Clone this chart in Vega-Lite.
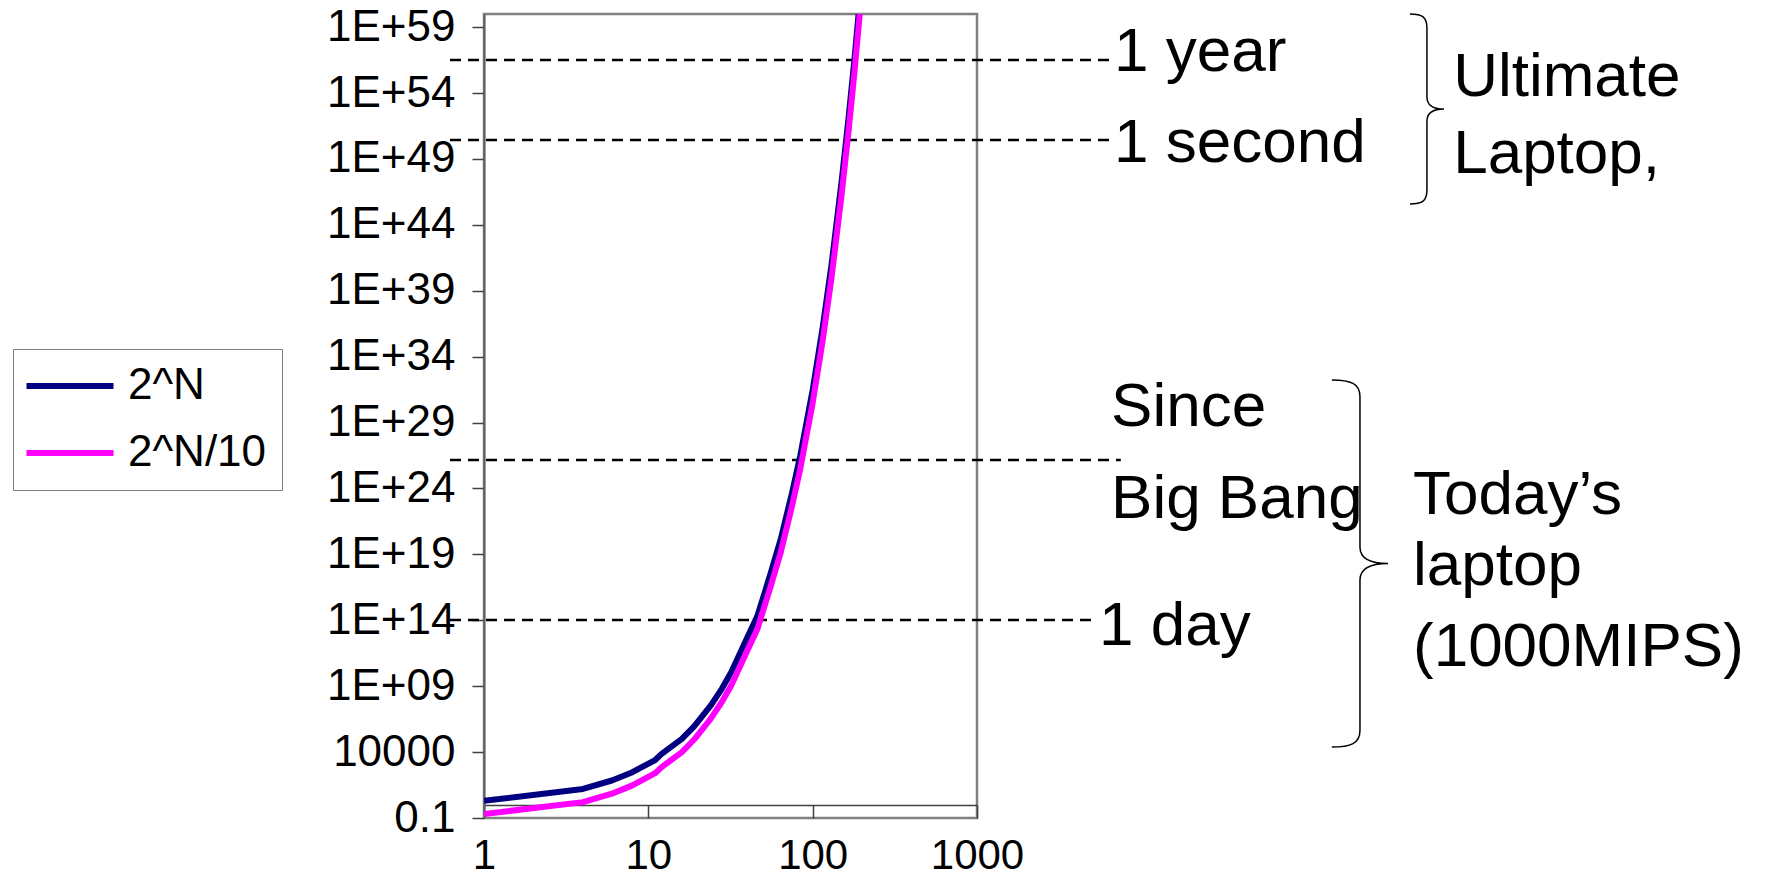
{
  "$schema": "https://vega.github.io/schema/vega-lite/v6.json",
  "autosize": {"type": "none"},
  "padding": {"left": 484, "top": 14, "right": 796, "bottom": 64},
  "width": 493,
  "height": 804,
  "background": "white",
  "config": {
    "view": {"stroke": "#808080", "strokeWidth": 2.5},
    "font": "Liberation Sans"
  },
  "datasets": {
    "series": [
      {"series": "2^N", "x": 1, "y": 2},
      {"series": "2^N", "x": 4, "y": 16},
      {"series": "2^N", "x": 6, "y": 70},
      {"series": "2^N", "x": 8, "y": 300},
      {"series": "2^N", "x": 11, "y": 2500},
      {"series": "2^N", "x": 12, "y": 7000},
      {"series": "2^N", "x": 16, "y": 100000},
      {"series": "2^N", "x": 19, "y": 900000},
      {"series": "2^N", "x": 24, "y": 3.5e7},
      {"series": "2^N", "x": 28, "y": 6.3e8},
      {"series": "2^N", "x": 32, "y": 1.2e10},
      {"series": "2^N", "x": 40, "y": 5e12},
      {"series": "2^N", "x": 46, "y": 2e14},
      {"series": "2^N", "x": 55, "y": 2.5e17},
      {"series": "2^N", "x": 64, "y": 1.5e20},
      {"series": "2^N", "x": 75, "y": 5e23},
      {"series": "2^N", "x": 84, "y": 3e26},
      {"series": "2^N", "x": 100, "y": 3e31},
      {"series": "2^N", "x": 115, "y": 1.6e36},
      {"series": "2^N", "x": 130, "y": 8e40},
      {"series": "2^N", "x": 150, "y": 2e47},
      {"series": "2^N", "x": 165, "y": 1e52},
      {"series": "2^N", "x": 180, "y": 5e56},
      {"series": "2^N", "x": 200, "y": 1e63},
      {"series": "2^N/10", "x": 1, "y": 0.2},
      {"series": "2^N/10", "x": 4, "y": 1.6},
      {"series": "2^N/10", "x": 6, "y": 7},
      {"series": "2^N/10", "x": 8, "y": 30},
      {"series": "2^N/10", "x": 11, "y": 250},
      {"series": "2^N/10", "x": 12, "y": 700},
      {"series": "2^N/10", "x": 16, "y": 10000},
      {"series": "2^N/10", "x": 19, "y": 90000},
      {"series": "2^N/10", "x": 24, "y": 3.5e6},
      {"series": "2^N/10", "x": 28, "y": 6.3e7},
      {"series": "2^N/10", "x": 32, "y": 1.2e9},
      {"series": "2^N/10", "x": 40, "y": 5e11},
      {"series": "2^N/10", "x": 46, "y": 2e13},
      {"series": "2^N/10", "x": 55, "y": 2.5e16},
      {"series": "2^N/10", "x": 64, "y": 1.5e19},
      {"series": "2^N/10", "x": 75, "y": 5e22},
      {"series": "2^N/10", "x": 84, "y": 3e25},
      {"series": "2^N/10", "x": 100, "y": 3e30},
      {"series": "2^N/10", "x": 115, "y": 1.6e35},
      {"series": "2^N/10", "x": 130, "y": 8e39},
      {"series": "2^N/10", "x": 150, "y": 2e46},
      {"series": "2^N/10", "x": 165, "y": 1e51},
      {"series": "2^N/10", "x": 180, "y": 5e55},
      {"series": "2^N/10", "x": 200, "y": 1e62}
    ],
    "rules": [
      {"event": "1 year", "x": 0.621, "x2": 6630, "y": 3.2e56},
      {"event": "1 second", "x": 0.621, "x2": 6630, "y": 2.8e50},
      {"event": "Since Big Bang", "x": 0.621, "x2": 7500, "y": 1.45e26},
      {"event": "1 day", "x": 0.621, "x2": 5370, "y": 1.05e14}
    ],
    "texts": [
      {"label": "1 year", "x": 6820, "y": 4.7e55},
      {"label": "1 second", "x": 6820, "y": 5.9e48},
      {"label": "Ultimate", "x": 790000, "y": 6e53},
      {"label": "Laptop,", "x": 790000, "y": 8.7e47},
      {"label": "Since", "x": 6540, "y": 5.5e28},
      {"label": "Big Bang", "x": 6540, "y": 5.8e21},
      {"label": "1 day", "x": 5530, "y": 1.3e12},
      {"label": "Today’s", "x": 450000, "y": 1.15e22},
      {"label": "laptop", "x": 450000, "y": 5e16},
      {"label": "(1000MIPS)", "x": 450000, "y": 3.5e10}
    ],
    "braceTop": [{"group": "Ultimate Laptop", "x": 547000, "y": 6.2e52}],
    "braceBottom": [{"group": "Today's laptop", "x": 214000, "y": 2.04e18}]
  },
  "encoding": {
    "x": {
      "field": "x",
      "type": "quantitative",
      "scale": {"type": "log", "domain": [1, 1000], "nice": false},
      "axis": {
        "title": null,
        "values": [1, 10, 100, 1000],
        "format": "d",
        "offset": -13,
        "grid": false,
        "labelFlush": false,
        "labelOverlap": false,
        "labelFont": "Liberation Sans",
        "labelFontSize": 42,
        "labelColor": "black",
        "labelPadding": 17,
        "tickSize": 13,
        "tickColor": "#404040",
        "tickWidth": 1.5,
        "domainColor": "#404040",
        "domainWidth": 1.5
      }
    },
    "y": {
      "field": "y",
      "type": "quantitative",
      "scale": {"type": "log", "domain": [0.1, 1e60], "nice": false},
      "axis": {
        "title": null,
        "values": [0.1, 1e4, 1e9, 1e14, 1e19, 1e24, 1e29, 1e34, 1e39, 1e44, 1e49, 1e54, 1e59],
        "labelExpr": "datum.value < 1 ? '0.1' : (datum.value < 1e5 ? '10000' : '1E+' + (round(log(datum.value)/LN10) < 10 ? '0' : '') + round(log(datum.value)/LN10))",
        "grid": false,
        "labelFlush": false,
        "labelOverlap": false,
        "labelFont": "Liberation Sans",
        "labelFontSize": 44,
        "labelColor": "black",
        "labelPadding": 17,
        "tickSize": 12,
        "tickColor": "#404040",
        "tickWidth": 1.5,
        "domainColor": "#606060",
        "domainWidth": 2
      }
    }
  },
  "layer": [
    {
      "data": {"name": "rules"},
      "mark": {"type": "rule", "color": "black", "strokeWidth": 2.5, "strokeDash": [11, 7]},
      "encoding": {"x2": {"field": "x2"}}
    },
    {
      "data": {"name": "series"},
      "mark": {"type": "line", "clip": true, "strokeWidth": 6, "strokeJoin": "round"},
      "encoding": {
        "color": {
          "field": "series",
          "type": "nominal",
          "scale": {"domain": ["2^N", "2^N/10"], "range": ["#000080", "#FF00FF"]},
          "legend": {
            "title": null,
            "orient": "none",
            "legendX": -471,
            "legendY": 335,
            "strokeColor": "#808080",
            "fillColor": "white",
            "padding": 15,
            "rowPadding": 23,
            "symbolType": "M -3 0 L 3 0",
            "symbolSize": 841,
            "symbolOffset": 20,
            "symbolStrokeWidth": 6,
            "labelFont": "Liberation Sans",
            "labelFontSize": 44,
            "labelColor": "black",
            "labelOffset": 36,
            "labelLimit": 400
          }
        }
      }
    },
    {
      "data": {"name": "texts"},
      "mark": {"type": "text", "align": "left", "baseline": "alphabetic", "font": "Liberation Sans", "fontSize": 62, "color": "black"},
      "encoding": {"text": {"field": "label"}}
    },
    {
      "data": {"name": "braceTop"},
      "mark": {
        "type": "point",
        "shape": "M -0.179 -1 C -0.05 -1 0 -0.97 0 -0.85 L 0 -0.13 C 0 -0.04 0.06 0 0.179 0 C 0.06 0 0 0.04 0 0.13 L 0 0.85 C 0 0.97 -0.05 1 -0.179 1",
        "size": 36100,
        "filled": false,
        "stroke": "black",
        "strokeWidth": 1.5,
        "opacity": 1
      }
    },
    {
      "data": {"name": "braceBottom"},
      "mark": {
        "type": "point",
        "shape": "M -0.153 -1 C -0.05 -1 0 -0.98 0 -0.91 L 0 -0.09 C 0 -0.03 0.05 0 0.153 0 C 0.05 0 0 0.03 0 0.09 L 0 0.91 C 0 0.98 -0.05 1 -0.153 1",
        "size": 134689,
        "filled": false,
        "stroke": "black",
        "strokeWidth": 1.5,
        "opacity": 1
      }
    }
  ]
}
